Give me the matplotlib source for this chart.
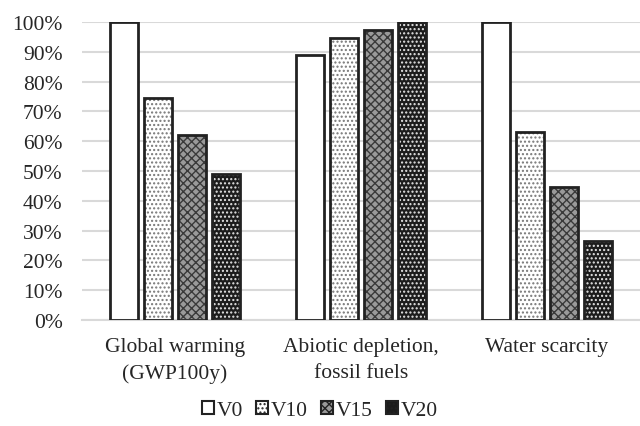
import matplotlib.pyplot as plt
import numpy as np
from matplotlib.patches import Patch
from matplotlib.ticker import PercentFormatter

categories = ["Global warming\n(GWP100y)", "Abiotic depletion,\nfossil fuels", "Water scarcity"]
series = ["V0", "V10", "V15", "V20"]
v0 = [100, 89, 100]
v10 = [74.5, 94.5, 63]
v15 = [62, 97.3, 44.5]
v20 = [49, 100, 26.5]

# face colour, hatch, hatch colour for each series
styles = [
    ("white", "", "white"),
    ("white", "....", "#777777"),
    ("#9a9a9a", "xxxx", "#3a3a3a"),
    ("#1c1c1c", "....", "#e6e6e6"),
]

plt.rcParams["font.family"] = ["Liberation Serif", "DejaVu Serif"]
plt.rcParams["hatch.linewidth"] = 1.0

fig = plt.figure(figsize=(6.4, 4.27), dpi=100)
ax = fig.add_axes([82 / 640, 106 / 427, 558 / 640, 298 / 427])

x = np.arange(len(categories))
width = 0.15
step = 0.183
values = [v0, v10, v15, v20]
for i, (vals, (face, hatch, hcol)) in enumerate(zip(values, styles)):
    pos = x + (i - 1.5) * step
    # filled and hatched body
    ax.bar(pos, vals, width, color=face, hatch=hatch, edgecolor=hcol, linewidth=0, zorder=2)
    # black outline on top
    ax.bar(pos, vals, width, fill=False, edgecolor="#222222", linewidth=2, zorder=3)

ax.set_xlim(-0.5, 2.5)
ax.set_ylim(0, 100)
ax.set_yticks(np.arange(0, 101, 10))
ax.yaxis.set_major_formatter(PercentFormatter(decimals=0))
ax.set_xticks(x)
ax.set_xticklabels(categories, linespacing=1.5)
ax.tick_params(axis="both", length=0, labelsize=15.5, colors="#262626")
ax.tick_params(axis="x", pad=12)
ax.tick_params(axis="y", pad=14)
ax.grid(axis="y", color="#d9d9d9", linewidth=1.5, zorder=0)
ax.set_axisbelow(True)
for side in ["top", "right", "left"]:
    ax.spines[side].set_visible(False)
ax.spines["bottom"].set_color("#d9d9d9")
ax.spines["bottom"].set_linewidth(1.5)

handles = [
    Patch(facecolor=face, hatch=hatch, edgecolor="#222222", linewidth=1.5)
    for face, hatch, hcol in styles
]
fig.legend(handles, series, loc="center", bbox_to_anchor=(0.5, 0.037), ncol=4,
           frameon=False, fontsize=15.5, handlelength=0.55, handleheight=0.55,
           handletextpad=0.15, columnspacing=0.6, labelcolor="#262626")

fig.savefig("out.png", dpi=100)
